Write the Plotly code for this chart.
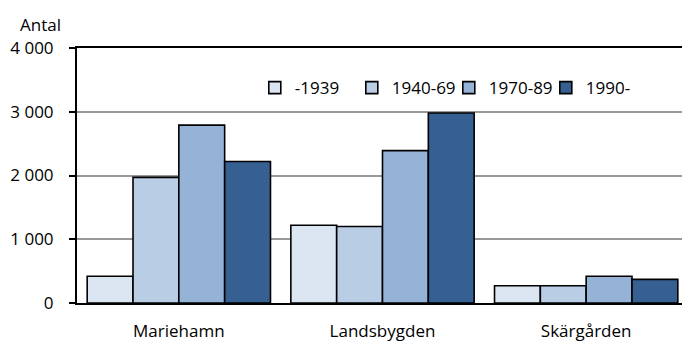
import plotly.graph_objects as go

categories = ["Mariehamn", "Landsbygden", "Skärgården"]
series_names = ["-1939", "1940-69", "1970-89", "1990-"]
v_1939 = [420, 1220, 270]
v_1940_69 = [1970, 1200, 270]
v_1970_89 = [2790, 2390, 420]
v_1990 = [2220, 2980, 370]
y_ticks = [0, 1000, 2000, 3000, 4000]
y_tick_labels = ["0", "1 000", "2 000", "3 000", "4 000"]

colors = ["#DCE6F2", "#B9CDE5", "#95B3D7", "#376092"]
values = [v_1939, v_1940_69, v_1970_89, v_1990]

FONT = "Open Sans"

fig = go.Figure()
for name, vals, col in zip(series_names, values, colors):
    fig.add_trace(go.Bar(
        x=categories, y=vals, name=name,
        marker=dict(color=col, line=dict(color="black", width=1.6)),
    ))

fig.update_layout(
    width=682, height=335,
    margin=dict(l=69, r=2, t=40, b=40),
    barmode="group", bargap=0.1, bargroupgap=0,
    plot_bgcolor="white", paper_bgcolor="white",
    font=dict(family=FONT, size=17, color="black"),
    showlegend=True,
    legend=dict(orientation="h", x=0.291, y=0.843, xanchor="left", yanchor="middle",
                font=dict(size=17), bgcolor="rgba(0,0,0,0)",
                itemwidth=30, traceorder="normal",
                entrywidth=52, entrywidthmode="pixels"),
    xaxis=dict(showline=True, linecolor="black", linewidth=2, mirror=True,
               ticks="", showgrid=False, tickfont=dict(size=17),
               ticklabelstandoff=12),
    yaxis=dict(range=[0, 4000], tickvals=y_ticks, ticktext=y_tick_labels,
               showline=True, linecolor="black", linewidth=2,
               ticks="outside", ticklen=6, tickcolor="black", tickwidth=1.5,
               showgrid=True, gridcolor="#999999", gridwidth=1.5,
               zeroline=False, tickfont=dict(size=17), ticklabelstandoff=12),
    annotations=[dict(text="Antal", xref="paper", yref="paper", x=-0.059, y=1.092,
                      xanchor="center", yanchor="middle", showarrow=False,
                      font=dict(size=17))],
)

fig.write_html("out.html")
